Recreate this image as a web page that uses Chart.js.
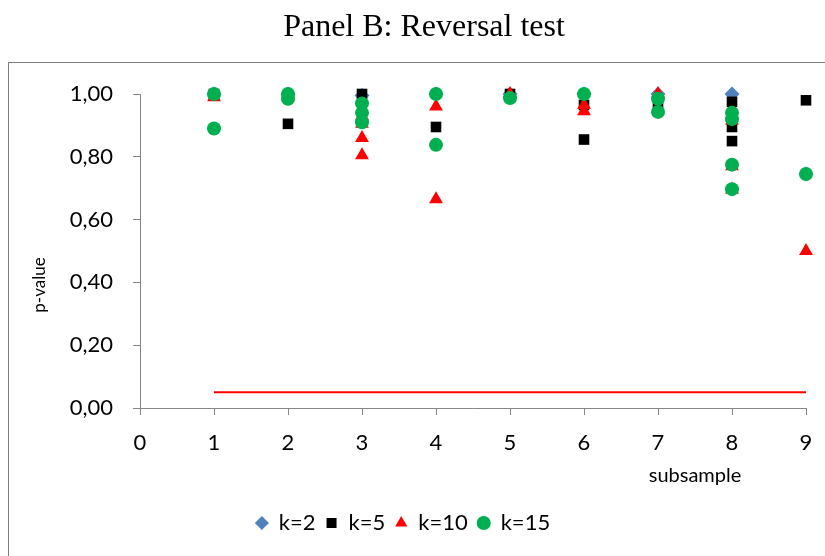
<!DOCTYPE html>
<html>
<head>
<meta charset="utf-8">
<script src="https://cdn.jsdelivr.net/npm/chart.js@4/dist/chart.umd.min.js"></script>
<style>
  html, body { margin: 0; padding: 0; background: #fff; overflow: hidden; }
  canvas { display: block; }
</style>
</head>
<body>
<canvas id="c" width="825" height="556"></canvas>
<script>
// Subsamples on the x axis and p-values of each test, grouped per subsample
const subsamples = [1, 2, 3, 4, 5, 6, 7, 8, 9];
const k2Values  = [[1.00], [1.00], [0.995], [1.00], [1.00], [1.00], [1.00], [1.00], [0.745]];
const k5Values  = [[1.00], [0.905], [1.00], [0.895], [1.00], [0.965, 0.855], [0.97], [0.975, 0.895, 0.85], [0.98]];
const k10Values = [[0.99], [0.99], [0.93, 0.905, 0.86, 0.805], [0.96, 0.665], [1.00], [0.965, 0.945], [1.00], [0.935, 0.915, 0.77, 0.695], [0.50]];
const k15Values = [[1.00, 0.89], [1.00, 0.985], [0.97, 0.94, 0.91], [1.00, 0.838], [0.987], [1.00], [0.985, 0.943], [0.94, 0.92, 0.775, 0.697], [0.745]];
const significanceLevel = 0.05;
const yTicks = [0, 0.2, 0.4, 0.6, 0.8, 1.0];

const FONT = 'Lato';

function toPoints(groups) {
  const pts = [];
  groups.forEach((vals, i) => vals.forEach(v => pts.push({ x: subsamples[i], y: v })));
  return pts;
}

function series(label, groups, color, style, radius, order) {
  return {
    label: label,
    data: toPoints(groups),
    backgroundColor: color,
    borderColor: color,
    borderWidth: 0,
    pointStyle: style,
    pointRadius: radius,
    pointHoverRadius: radius,
    order: order,
    clip: false
  };
}

// White page with the framed chart box
const framePlugin = {
  id: 'frame',
  beforeDraw(chart) {
    const ctx = chart.ctx;
    ctx.save();
    ctx.fillStyle = '#ffffff';
    ctx.fillRect(0, 0, chart.width, chart.height);
    ctx.strokeStyle = '#7f7f7f';
    ctx.lineWidth = 1;
    ctx.strokeRect(8.5, 62.5, 1000, 1000);
    ctx.restore();
  }
};

// Panel heading above the frame and the axis titles
const headings = {
  id: 'headings',
  afterDraw(chart) {
    const ctx = chart.ctx;
    ctx.save();
    ctx.fillStyle = '#000';
    ctx.textAlign = 'center';
    ctx.textBaseline = 'middle';
    ctx.font = '32px "Liberation Serif"';
    ctx.fillText('Panel B: Reversal test', 424, 28);
    ctx.font = '20px ' + FONT;
    ctx.fillText('subsample', 695, 476);
    ctx.translate(40, 285);
    ctx.rotate(-Math.PI / 2);
    ctx.font = '17px ' + FONT;
    ctx.fillText('p-value', 0, 0);
    ctx.restore();
  }
};

new Chart(document.getElementById('c'), {
  type: 'scatter',
  data: {
    datasets: [
      series('k=2', k2Values, '#4f81bd', 'rectRot', 7.5, 4),
      series('k=5', k5Values, '#000000', 'rect', 7.5, 3),
      series('k=10', k10Values, '#ff0000', 'triangle', 8, 2),
      series('k=15', k15Values, '#00b050', 'circle', 7, 1),
      {
        type: 'line',
        label: 'threshold',
        data: [
          { x: subsamples[0], y: significanceLevel },
          { x: subsamples[subsamples.length - 1], y: significanceLevel }
        ],
        borderColor: '#ff0000',
        borderWidth: 2,
        pointRadius: 0,
        showLine: true,
        fill: false,
        order: 5
      }
    ]
  },
  options: {
    responsive: false,
    animation: false,
    devicePixelRatio: 1,
    layout: { padding: { left: 0, right: 19, top: 94, bottom: 12 } },
    plugins: {
      title: { display: false },
      legend: {
        position: 'bottom',
        labels: {
          color: '#000',
          font: { family: FONT, size: 22 },
          usePointStyle: true,
          boxWidth: 12,
          boxHeight: 10,
          padding: 10,
          filter: item => item.text !== 'threshold',
          sort: (a, b) => a.datasetIndex - b.datasetIndex
        }
      },
      tooltip: { enabled: false }
    },
    scales: {
      x: {
        type: 'linear',
        min: 0,
        max: 9,
        afterFit(scale) {
          scale.height = 94;
          scale.paddingLeft = 0;
          scale.paddingRight = 0;
        },
        afterBuildTicks(scale) { scale.ticks = [0].concat(subsamples).map(v => ({ value: v })); },
        ticks: {
          color: '#000',
          font: { family: FONT, size: 22 },
          padding: 15,
          maxRotation: 0,
          callback: v => String(v)
        },
        grid: { display: true, drawOnChartArea: false, drawTicks: true, tickLength: 7, color: '#868686' },
        border: { display: true, color: '#868686', width: 1 }
      },
      y: {
        type: 'linear',
        min: 0,
        max: 1,
        afterFit(scale) { scale.width = 140; },
        afterBuildTicks(scale) { scale.ticks = yTicks.map(v => ({ value: v })); },
        ticks: {
          color: '#000',
          font: { family: FONT, size: 22 },
          padding: 20,
          callback: v => v.toFixed(2).replace('.', ',')
        },
        grid: { display: true, drawOnChartArea: false, drawTicks: true, tickLength: 7, color: '#868686' },
        border: { display: true, color: '#868686', width: 1 }
      }
    }
  },
  plugins: [framePlugin, headings]
});
</script>
</body>
</html>
